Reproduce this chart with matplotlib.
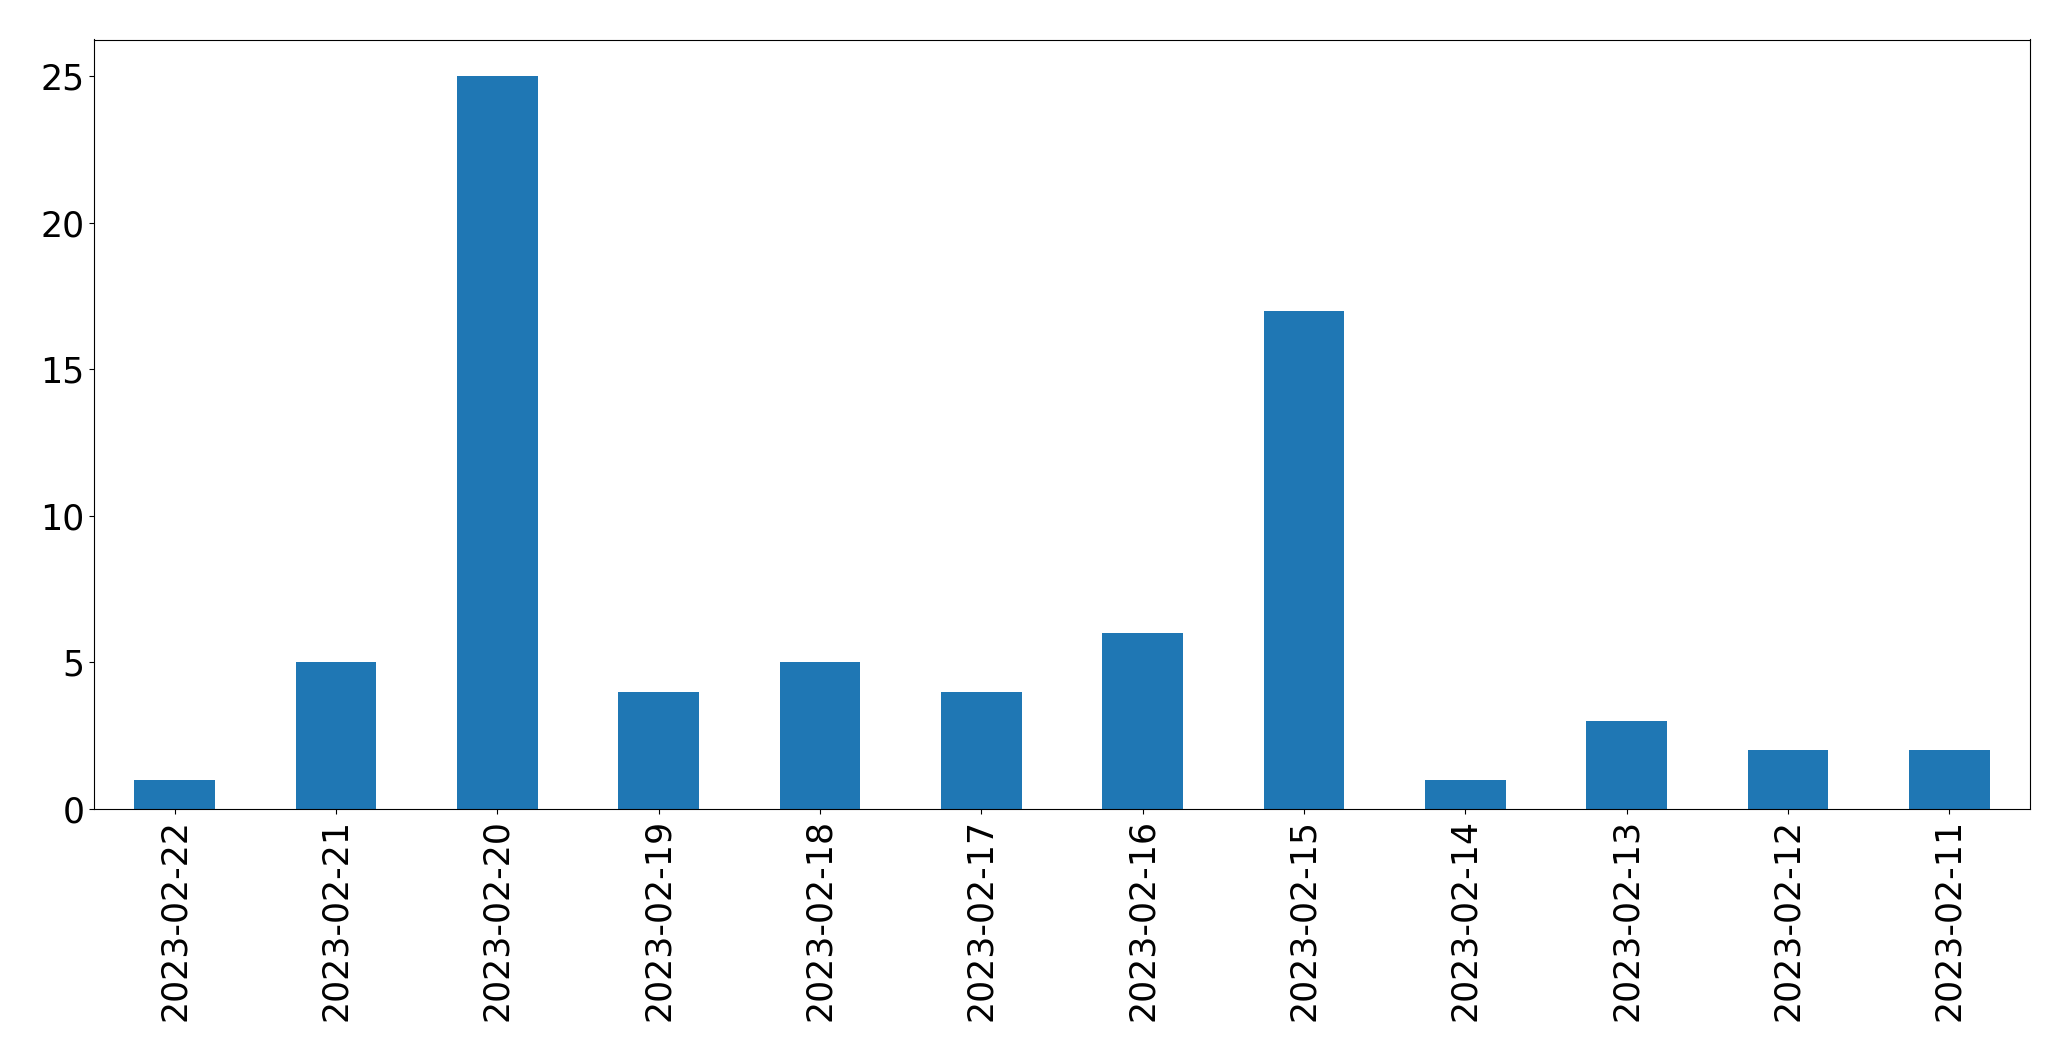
import matplotlib
matplotlib.use("Agg")
import matplotlib.pyplot as plt

DATES = ["2023-02-22", "2023-02-21", "2023-02-20", "2023-02-19",
         "2023-02-18", "2023-02-17", "2023-02-16", "2023-02-15",
         "2023-02-14", "2023-02-13", "2023-02-12", "2023-02-11"]
COUNTS = [1, 5, 25, 4, 5, 4, 6, 17, 1, 3, 2, 2]

FONT_SIZE = 25


def main():
    fig, ax = plt.subplots(figsize=(20.71, 10.61), dpi=100)
    fig.subplots_adjust(left=94 / 2071, right=2030 / 2071,
                        top=1 - 39.5 / 1061, bottom=1 - 809 / 1061)

    xs = range(len(DATES))
    ax.bar(xs, COUNTS, width=0.5, color="#1f77b4")
    ax.set_xlim(-0.5, len(DATES) - 0.5)
    ax.set_ylim(0, max(COUNTS) * 1.05)
    ax.set_xticks(list(xs))
    ax.set_xticklabels(DATES, rotation=90)
    ax.tick_params(labelsize=FONT_SIZE)

    fig.savefig("out.png", dpi=100)


if __name__ == '__main__':
    main()
